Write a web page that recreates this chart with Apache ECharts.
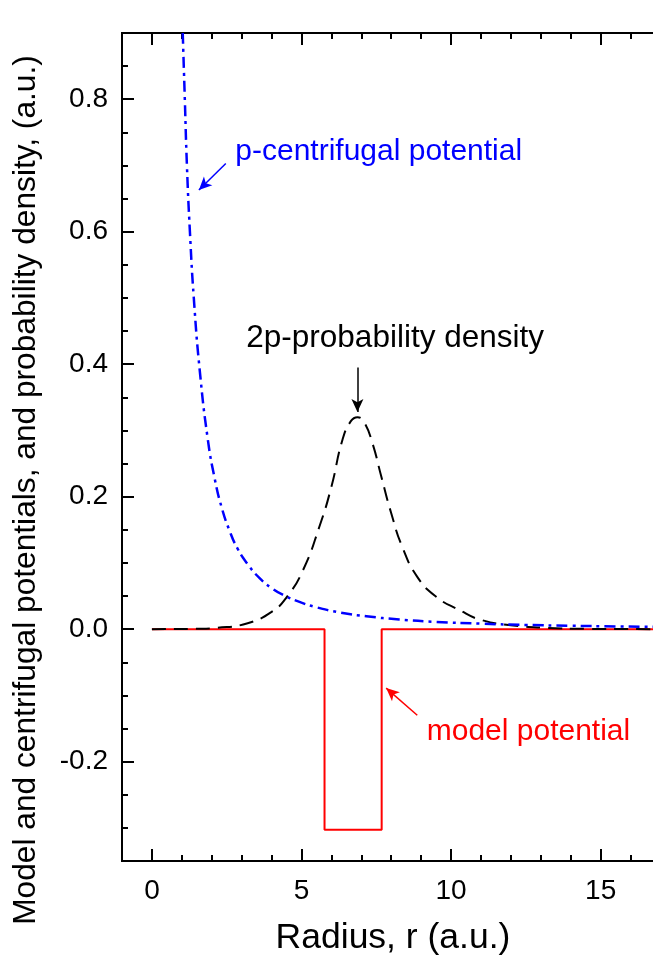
<!DOCTYPE html>
<html>
<head>
<meta charset="utf-8">
<script src="https://cdn.jsdelivr.net/npm/echarts@6/dist/echarts.min.js"></script>
<style>
  html, body { margin: 0; padding: 0; background: #fff; }
  #chart { width: 653px; height: 959px; }
</style>
</head>
<body>
<div id="chart"></div>
<script>
// values
const modelR = [0, 5.77, 5.77, 7.68, 7.68, 17];
const modelV = [0, 0, -0.303, -0.303, 0, 0];

const centR = [1.03, 1.1, 1.17, 1.27, 1.4, 1.6, 1.87, 2.1, 2.33, 2.6, 2.87, 3.2, 3.6, 4.0, 4.37, 5.0, 5.5, 6.3, 7.17, 8.27, 9.5, 11, 12.5, 14, 15.5, 17];
const centV = [0.90, 0.80, 0.70, 0.60, 0.50, 0.39, 0.286, 0.227, 0.184, 0.148, 0.121, 0.098, 0.077, 0.062, 0.052, 0.04, 0.033, 0.025, 0.0195, 0.0146, 0.011, 0.0083, 0.0064, 0.0051, 0.0042, 0.0035];

const densR = [0, 1.5, 2.2, 3.2, 4.0, 4.5, 5.05, 5.6, 6.0, 6.37, 6.65, 6.87, 7.1, 7.37, 7.67, 8.0, 8.37, 8.87, 9.5, 10.27, 11.0, 12.0, 13.2, 14.5, 17];
const densV = [0, 0.0005, 0.002, 0.009, 0.026, 0.048, 0.089, 0.155, 0.215, 0.286, 0.314, 0.32, 0.312, 0.281, 0.23, 0.175, 0.124, 0.079, 0.049, 0.029, 0.014, 0.006, 0.002, 0.0005, 0];

const xMajor = [0, 5, 10, 15];
const xMinor = [0, 1, 2, 3, 4, 5, 6, 7, 8, 9, 10, 11, 12, 13, 14, 15, 16];
const yMajor = [-0.2, 0, 0.2, 0.4, 0.6, 0.8];
const yMinor = [-0.3, -0.25, -0.2, -0.15, -0.1, -0.05, 0, 0.05, 0.1, 0.15, 0.2, 0.25, 0.3, 0.35, 0.4, 0.45, 0.5, 0.55, 0.6, 0.65, 0.7, 0.75, 0.8, 0.85];

const xTitle = 'Radius, r (a.u.)';
const yTitle = 'Model and centrifugal potentials, and probability density, (a.u.)';

const zip = (a, b) => a.map((v, i) => [v, b[i]]);

const font = '"Liberation Sans", Arial, sans-serif';
const XMIN = -1, XMAX = 16.75, YMIN = -0.35, YMAX = 0.9;

function xAx(pos, ticks, len, extra) {
  return Object.assign({
    type: 'value', min: XMIN, max: XMAX, position: pos,
    axisLine: { show: true, onZero: false, lineStyle: { color: '#000', width: 2 } },
    axisTick: { show: true, inside: true, length: len, customValues: ticks, lineStyle: { color: '#000', width: 2 } },
    axisLabel: { show: false },
    splitLine: { show: false }
  }, extra || {});
}
function yAx(ticks, len, extra) {
  return Object.assign({
    type: 'value', min: YMIN, max: YMAX, position: 'left',
    axisLine: { show: true, onZero: false, lineStyle: { color: '#000', width: 2 } },
    axisTick: { show: true, inside: true, length: len, customValues: ticks, lineStyle: { color: '#000', width: 2 } },
    axisLabel: { show: false },
    splitLine: { show: false }
  }, extra || {});
}

const chart = echarts.init(document.getElementById('chart'));
const option = {
  animation: false,
  backgroundColor: '#fff',
  grid: { left: 122, right: 0, top: 33, bottom: 98, containLabel: false },
  graphic: [
    {
      type: 'text', x: 393, y: 938, silent: true,
      style: { text: xTitle, font: '35.5px ' + font, fill: '#000', align: 'center', verticalAlign: 'middle' }
    },
    {
      type: 'text', x: 26, y: 490, rotation: Math.PI / 2, silent: true,
      style: { text: yTitle, font: '31.7px ' + font, fill: '#000', align: 'center', verticalAlign: 'middle' }
    }
  ],
  xAxis: [
    xAx('bottom', xMajor, 12, {
      axisLabel: { show: true, customValues: xMajor, margin: 16, fontSize: 28, color: '#000', fontFamily: font }
    }),
    xAx('bottom', xMinor, 6),
    xAx('top', xMajor, 12),
    xAx('top', xMinor, 6)
  ],
  yAxis: [
    yAx(yMajor, 12, {
      axisLabel: { show: true, customValues: yMajor, margin: 14, fontSize: 28, color: '#000', fontFamily: font,
        formatter: v => v.toFixed(1) }
    }),
    yAx(yMinor, 6)
  ],
  series: [
    {
      name: 'model potential', type: 'line', data: zip(modelR, modelV), showSymbol: false, clip: true,
      lineStyle: { color: '#ff0000', width: 2 },
      markLine: {
        silent: true, symbol: ['none', 'arrow'], symbolSize: [9, 13], label: { show: false },
        lineStyle: { color: '#ff0000', width: 1.5, type: 'solid' },
        data: [[{ coord: [8.87, -0.13] }, { coord: [7.83, -0.089] }]]
      },
      markPoint: {
        silent: true, symbol: 'circle', symbolSize: 1, itemStyle: { color: 'rgba(0,0,0,0)' },
        label: { show: true, position: 'right', distance: 0, formatter: 'model potential', fontSize: 30, color: '#ff0000', fontFamily: font },
        data: [{ coord: [9.17, -0.155] }]
      }
    },
    {
      name: '2p-probability density', type: 'line', data: zip(densR, densV), showSymbol: false, clip: true,
      smooth: true,
      lineStyle: { color: '#000', width: 2, type: [14, 8] },
      markLine: {
        silent: true, symbol: ['none', 'arrow'], symbolSize: [9, 13], label: { show: false },
        lineStyle: { color: '#000', width: 1.5, type: 'solid' },
        data: [[{ coord: [6.87, 0.395] }, { coord: [6.87, 0.328] }]]
      },
      markPoint: {
        silent: true, symbol: 'circle', symbolSize: 1, itemStyle: { color: 'rgba(0,0,0,0)' },
        label: { show: true, position: 'inside', formatter: '2p-probability density', fontSize: 31.5, color: '#000', fontFamily: font },
        data: [{ coord: [8.13, 0.439] }]
      }
    },
    {
      name: 'p-centrifugal potential', type: 'line', data: zip(centR, centV), showSymbol: false, clip: true,
      smooth: true,
      lineStyle: { color: '#0000ff', width: 2.5, type: [11, 5, 3, 5] },
      markLine: {
        silent: true, symbol: ['none', 'arrow'], symbolSize: [9, 13], label: { show: false },
        lineStyle: { color: '#0000ff', width: 1.5, type: 'solid' },
        data: [[{ coord: [2.47, 0.703] }, { coord: [1.57, 0.663] }]]
      },
      markPoint: {
        silent: true, symbol: 'circle', symbolSize: 1, itemStyle: { color: 'rgba(0,0,0,0)' },
        label: { show: true, position: 'right', distance: 0, formatter: 'p-centrifugal potential', fontSize: 30, color: '#0000ff', fontFamily: font },
        data: [{ coord: [2.77, 0.72] }]
      }
    }
  ]
};
chart.setOption(option);
</script>
</body>
</html>
